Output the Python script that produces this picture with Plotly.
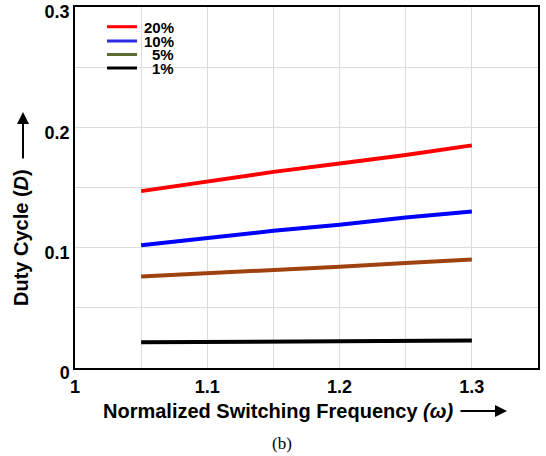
import plotly.graph_objects as go

# ---- data ----
freq = [1.05, 1.10, 1.15, 1.20, 1.25, 1.30]
d20 = [0.147, 0.155, 0.163, 0.170, 0.177, 0.185]
d10 = [0.102, 0.108, 0.114, 0.119, 0.125, 0.130]
d5 = [0.076, 0.0785, 0.0815, 0.0842, 0.0872, 0.0902]
d1 = [0.0213, 0.0216, 0.0219, 0.0222, 0.0226, 0.0229]
labels = ["20%", "10%", "5%", "1%"]
line_colors = ["#ff0000", "#0000ff", "#a0420f", "#000000"]
legend_colors = ["#ff0000", "#2a2ae0", "#5a6e32", "#000000"]
xticks = [1, 1.1, 1.2, 1.3]
xtick_text = ["1", "1.1", "1.2", "1.3"]
yticks = [0, 0.1, 0.2, 0.3]
ytick_text = ["0", "0.1", "0.2", "0.3"]

W, H = 546, 456
L, R, T, B = 75, 538, 7, 368


def px(x):
    return (x - L) / (R - L)


def py(y):
    return (B - y) / (B - T)


fig = go.Figure()
for ys, c, n in zip([d20, d10, d5, d1], line_colors, labels):
    fig.add_trace(go.Scatter(x=freq, y=ys, mode="lines", name=n,
                             line=dict(color=c, width=4), showlegend=False))

FONT = "Liberation Sans, Arial, sans-serif"

shapes = []
annotations = []
# legend box
shapes.append(dict(type="rect", xref="paper", yref="paper",
                   x0=px(95), x1=px(182), y0=py(74), y1=py(14),
                   fillcolor="white", line=dict(width=0), layer="between"))
rows = [26.7, 41, 54.5, 68]
for yy, c, n in zip(rows, legend_colors, labels):
    shapes.append(dict(type="line", xref="paper", yref="paper",
                       x0=px(107), x1=px(137), y0=py(yy), y1=py(yy),
                       line=dict(color=c, width=3), layer="above"))
    annotations.append(dict(xref="paper", yref="paper", x=px(176), y=py(yy + 0.5),
                            text="<b>%s</b>" % n, showarrow=False,
                            xanchor="right", yanchor="middle",
                            font=dict(family=FONT, size=15, color="black")))

# axis titles
annotations.append(dict(xref="paper", yref="paper", x=px(101), y=py(411),
                        text="<b>Normalized Switching Frequency <i>(ω)</i></b>",
                        showarrow=False, xanchor="left", yanchor="middle",
                        font=dict(family=FONT, size=20, color="black")))
annotations.append(dict(xref="paper", yref="paper", x=px(507), y=py(411),
                        ax=-48, ay=0, text="", showarrow=True,
                        arrowhead=2, arrowsize=1.2, arrowwidth=2, arrowcolor="black"))
annotations.append(dict(xref="paper", yref="paper", x=px(21), y=py(238),
                        text="<b>Duty Cycle (<i>D</i>)</b>", textangle=-90,
                        showarrow=False, xanchor="center", yanchor="middle",
                        font=dict(family=FONT, size=20, color="black")))
annotations.append(dict(xref="paper", yref="paper", x=px(23), y=py(112),
                        ax=0, ay=48, text="", showarrow=True,
                        arrowhead=2, arrowsize=1.2, arrowwidth=2, arrowcolor="black"))
annotations.append(dict(xref="paper", yref="paper", x=px(282), y=py(443),
                        text="(b)", showarrow=False, xanchor="center", yanchor="middle",
                        font=dict(family="Liberation Serif, Times New Roman, serif", size=17, color="black")))

fig.update_layout(
    width=W, height=H,
    margin=dict(l=L, r=W - R, t=T, b=H - B, autoexpand=False),
    paper_bgcolor="white", plot_bgcolor="white",
    shapes=shapes, annotations=annotations,
    showlegend=False,
)
fig.update_xaxes(range=[1, 1.35], tickvals=xticks, ticktext=xtick_text,
                 showgrid=True, gridcolor="#dcdcdc", gridwidth=1,
                 minor=dict(dtick=0.05, tick0=1, showgrid=True, gridcolor="#dcdcdc", gridwidth=1),
                 showline=True, linecolor="black", linewidth=1.5, mirror=True,
                 ticks="", zeroline=False, ticklabeloverflow="allow", automargin=False,
                 ticklabelstandoff=2,
                 tickfont=dict(family=FONT, size=18, color="black", weight="bold"))
fig.update_yaxes(range=[0, 0.3], tickvals=yticks, ticktext=ytick_text,
                 showgrid=True, gridcolor="#dcdcdc", gridwidth=1,
                 minor=dict(dtick=0.05, tick0=0, showgrid=True, gridcolor="#dcdcdc", gridwidth=1),
                 showline=True, linecolor="black", linewidth=1.5, mirror=True,
                 ticks="", zeroline=False, ticklabeloverflow="allow", automargin=False,
                 ticklabelshift=5,
                 tickfont=dict(family=FONT, size=18, color="black", weight="bold"))

fig.write_html("out.html")
